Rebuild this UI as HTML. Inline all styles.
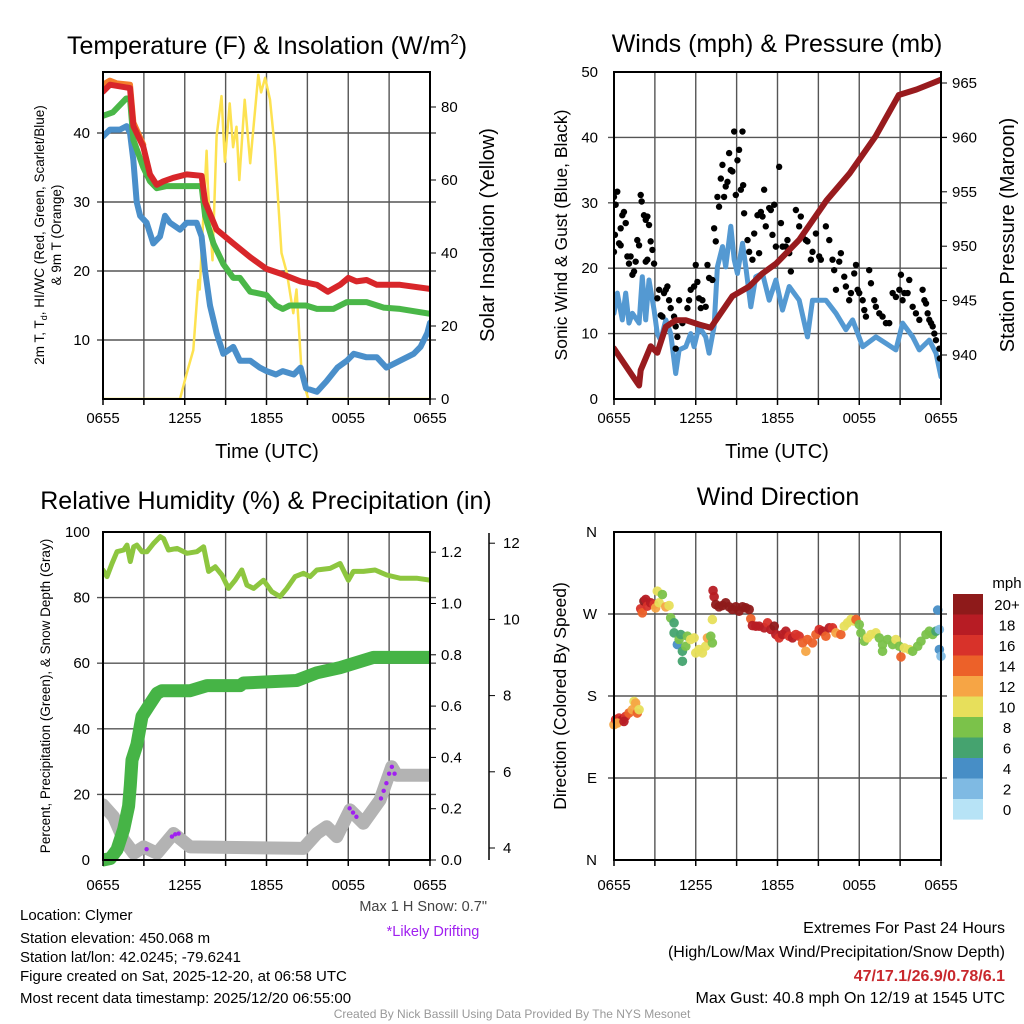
<!DOCTYPE html>
<html><head><meta charset="utf-8"><style>
body{margin:0;background:#fff}
svg{display:block;font-family:"Liberation Sans",Arial,sans-serif}
</style></head><body>
<svg id="c" width="1024" height="1024" viewBox="0 0 1024 1024" xmlns="http://www.w3.org/2000/svg">
<defs>
<clipPath id="c1"><rect x="103" y="72" width="327" height="327"/></clipPath>
<clipPath id="c2"><rect x="614" y="72" width="327" height="327"/></clipPath>
<clipPath id="c3"><rect x="103" y="532" width="327" height="340"/></clipPath>
<clipPath id="c4"><rect x="608" y="532" width="340" height="328"/></clipPath>
</defs>
<g id="g1"></g>
<g id="g2"></g>
<g id="g3"></g>
<g id="g4"></g>
<g id="gt">
<text x="267" y="54" font-size="25" text-anchor="middle">Temperature (F) &amp; Insolation (W/m<tspan font-size="15" dy="-10">2</tspan><tspan dy="10">)</tspan></text>
<text x="777" y="52" font-size="25" text-anchor="middle">Winds (mph) &amp; Pressure (mb)</text>
<text x="266" y="509" font-size="25" text-anchor="middle">Relative Humidity (%) &amp; Precipitation (in)</text>
<text x="778" y="505" font-size="25" text-anchor="middle">Wind Direction</text>
<text x="267" y="458" font-size="20" text-anchor="middle">Time (UTC)</text>
<text x="777" y="458" font-size="20" text-anchor="middle">Time (UTC)</text>
<text transform="translate(44,235) rotate(-90)" font-size="13.5" text-anchor="middle">2m T, T<tspan font-size="9" dy="3">d</tspan><tspan dy="-3">, HI/WC (Red, Green, Scarlet/Blue)</tspan></text>
<text transform="translate(61,235) rotate(-90)" font-size="13.5" text-anchor="middle">&amp; 9m T (Orange)</text>
<text transform="translate(494,235) rotate(-90)" font-size="20" text-anchor="middle">Solar Insolation (Yellow)</text>
<text transform="translate(567,235) rotate(-90)" font-size="17.5" text-anchor="middle">Sonic Wind &amp; Gust (Blue, Black)</text>
<text transform="translate(1014,235) rotate(-90)" font-size="20" text-anchor="middle">Station Pressure (Maroon)</text>
<text transform="translate(50,696) rotate(-90)" font-size="13.5" text-anchor="middle">Percent, Precipitation (Green), &amp; Snow Depth (Gray)</text>
<text transform="translate(566,696) rotate(-90)" font-size="17.5" text-anchor="middle">Direction (Colored By Speed)</text>
<text x="487" y="911" font-size="14.5" text-anchor="end" fill="#444">Max 1 H Snow: 0.7"</text>
<text x="433" y="936" font-size="14.5" text-anchor="middle" fill="#a020f0">*Likely Drifting</text>
<g font-size="15">
<text x="20" y="920">Location: Clymer</text>
<text x="20" y="943">Station elevation: 450.068 m</text>
<text x="20" y="962">Station lat/lon: 42.0245; -79.6241</text>
<text x="20" y="981">Figure created on Sat, 2025-12-20, at 06:58 UTC</text>
<text x="20" y="1003">Most recent data timestamp: 2025/12/20 06:55:00</text>
</g>
<g font-size="16" text-anchor="end">
<text x="1005" y="933">Extremes For Past 24 Hours</text>
<text x="1005" y="957">(High/Low/Max Wind/Precipitation/Snow Depth)</text>
<text x="1005" y="981" fill="#c8282d" font-weight="bold">47/17.1/26.9/0.78/6.1</text>
<text x="1005" y="1003">Max Gust: 40.8 mph On 12/19 at 1545 UTC</text>
</g>
<text x="512" y="1018" font-size="12" fill="#999" text-anchor="middle">Created By Nick Bassill Using Data Provided By The NYS Mesonet</text>
</g>
</svg>
<script>
// ---------- DATA ----------
const xTickLabels=["0655","1255","1855","0055","0655"];
const tTicks=[10,20,30,40];
const sTicks=[0,20,40,60,80];
const wTicks=[0,10,20,30,40,50];
const pTicks=[940,945,950,955,960,965];
const rhTicks=[0,20,40,60,80,100];
const prTicks=[0.0,0.2,0.4,0.6,0.8,1.0,1.2];
const snTicks=[4,6,8,10,12];
const dirLabels=["N","E","S","W","N"];
const dirTicks=[0,90,180,270,360];
const cbLabels=["20+","18","16","14","12","10","8","6","4","2","0"];
const cbColors=["#8e1a1a","#b71c24","#d8322a","#ec6129","#f6a545","#e7df5b","#7bc24a","#45a36f","#478ec6","#7fbae3","#b7e3f6"];

const redH=[0,0.51,1.98,2.23,2.96,3.45,3.94,4.43,5.16,6.14,7.24,7.49,8.34,9.56,10.8,12.0,13.2,14.5,15.7,16.5,17.4,18.0,18.6,19.35,20.1,21.8,24];
const redV=[46,47,46.5,41,38,34,32.5,33,33.5,34,33.8,30,26,24,22,20.3,19.5,18.5,18,17,18,19,18.5,18.7,18,18,17.4];
const orgH=[0,0.51,1.0,1.98,2.23,2.96];
const orgV=[47,47.6,47.2,47,41.5,38.3];
const grnH=[0,0.73,1.7,1.98,2.23,2.96,3.45,3.94,4.67,6.14,7.24,7.49,8.1,8.83,9.56,10.05,10.8,12.0,12.7,13.2,13.7,14.5,14.9,15.7,16.9,17.9,19.35,20.6,21.8,24];
const grnV=[42.5,43,45,45,39,35,33,32,32.3,32.3,32.3,28,24,21,19,19,17,16.5,15,14.5,15,15,15,14.5,14.5,15.5,15.5,14.7,14.5,13.8];
const bluH=[0,0.51,1.24,1.73,1.98,2.23,2.47,2.72,3.2,3.69,4.18,4.55,4.91,5.65,6.14,6.87,7.24,7.49,7.85,8.34,8.83,9.56,10.05,10.8,11.5,12.0,12.7,13.2,14.0,14.5,14.9,15.7,16.4,17.2,17.9,18.4,19.35,20.1,20.8,21.8,22.8,23.3,23.8,24];
const bluV=[39.5,40.5,40.5,41,40,36,30,28,27,24,25,28,27,26,27,27,25,20,15,11,8,9,7,7,6,5.5,5,5.5,5,6,3,2.5,4,6,7,8,7.5,7.5,6,7,8,9,11,12.5];
const solH=[0,5.65,6.14,6.63,7.0,7.1,7.6,7.7,8.04,8.34,8.7,8.95,9.3,9.55,9.8,10.0,10.4,10.8,11.4,11.6,11.9,12.26,12.6,13.1,13.5,13.97,14.2,14.6,15.07,24];
const solV=[0,0,7,13.4,32.6,30,68,58,38,72,83,65,81,69,74.6,60,82,64.6,88.8,84,88,82,69,40,34.5,23.5,30,6,0,0];

const wndH=[0,.24,.61,.86,1.1,1.35,1.84,2.08,2.33,2.57,2.94,3.18,3.43,3.8,4.16,4.53,4.78,5.27,5.63,5.88,6.24,6.73,6.98,7.35,7.59,7.96,8.2,8.57,8.82,9.06,9.43,9.67,10.04,10.41,10.9,11.39,11.88,12.37,12.86,13.59,14.2,14.57,15.55,16.29,17.02,17.51,18.25,19.22,19.96,20.69,21.18,21.92,22.41,23.14,23.63,24];
const wndV=[13.1,16.2,12.1,16.2,11.6,13.1,11.6,18.7,12.1,18.2,13.6,10.0,9.0,12.1,10.0,3.9,7.5,8.0,10.0,8.0,11.1,9.5,7.0,11.1,20.2,23.3,20.2,26.4,21.3,19.2,23.8,20.2,14.1,18.7,19.2,15.1,18.2,13.6,17.2,15.1,9.5,15.1,15.1,13.1,10.6,12.1,8.0,9.5,8.5,7.5,11.6,9.5,7.5,9.0,7.0,3.4];
const prsH=[0,1.84,1.96,2.69,3.18,3.80,4.53,5.27,6.24,7.10,8.69,9.92,10.9,11.9,13.6,15.6,17.3,19.2,20.9,22.2,23.4,24];
const prsV=[940.6,937.2,938.6,940.8,940.2,942.6,943.2,943.2,942.8,942.5,945.4,946.3,947.5,948.4,950.6,954.2,956.7,960.1,963.9,964.4,965.0,965.3];
const gstH=[0,0,.24,.12,.07,.37,.49,.61,.73,.86,.49,.98,1.10,1.22,1.35,1.47,1.59,1.71,1.84,1.96,2.03,2.20,2.33,2.45,2.57,2.69,2.82,2.33,2.45,2.94,3.18,3.31,3.43,3.55,3.67,3.80,3.92,4.04,4.16,4.41,4.53,4.65,4.53,4.78,5.02,5.39,5.51,5.63,5.88,6.0,6.12,6.24,6.37,6.49,6.73,6.86,6.98,7.22,7.35,7.47,7.59,7.71,7.84,7.96,8.08,8.20,8.33,8.45,8.57,8.69,8.82,8.94,9.06,9.18,9.31,9.43,9.48,9.55,9.80,9.92,10.16,10.29,10.53,10.65,10.78,10.90,11.02,11.14,11.39,11.51,11.63,11.76,11.88,12.12,12.25,12.37,12.61,12.73,12.86,12.98,13.35,13.59,13.71,13.84,14.08,14.2,14.45,14.57,14.82,15.06,15.18,15.55,15.8,16.04,16.16,16.29,16.53,16.65,16.9,17.02,17.26,17.39,17.63,17.76,17.88,18.0,18.25,18.37,18.49,18.73,18.86,19.1,19.22,19.47,19.71,19.96,20.2,20.45,20.69,20.94,21.06,21.18,21.31,21.55,21.67,21.92,22.16,22.41,22.65,22.78,22.9,23.02,23.14,23.27,23.39,23.51,23.63,23.88,23.92];
const gstV=[22.5,30.9,31.7,29.7,25.1,23.8,23.5,28.1,28.6,26.9,26.1,21.8,20.7,21.8,19.0,19.5,21.0,24.3,23.5,31.2,30.2,28.1,27.4,27.9,26.6,24.1,22.8,21.0,21.3,20.7,15.4,16.7,12.8,12.6,16.2,16.7,17.2,15.1,13.9,12.6,11.1,9.5,7.7,15.1,11.6,13.9,15.1,16.7,17.2,20.5,17.9,15.4,13.9,15.1,14.1,20.5,18.5,18.2,26.1,24.1,30.9,29.4,33.7,35.8,30.9,32.5,33.2,37.6,35.0,34.8,40.9,31.2,36.5,38.1,32.0,40.9,32.7,28.4,24.3,22.5,21.3,25.3,28.1,22.3,28.6,27.9,32.0,26.4,29.2,28.9,25.1,29.7,23.3,35.5,26.9,23.3,23.3,24.3,22.3,19.5,28.9,26.4,27.9,24.8,24.3,24.1,21.3,22.5,25.3,21.8,21.3,26.4,24.3,21.3,19.7,16.7,21.0,22.3,18.7,17.2,15.1,16.2,19.2,20.5,16.7,16.2,15.1,13.6,12.6,19.7,17.7,15.1,14.1,13.1,12.6,11.6,11.6,16.2,15.6,16.7,19.0,15.1,16.2,16.2,18.2,14.1,13.1,12.1,16.7,15.1,14.6,13.1,12.1,11.6,11.1,10.0,9.0,7.7,6.2];

const rhH=[0,.29,.66,1.03,1.52,1.76,2.0,2.25,2.49,2.86,3.23,3.71,4.2,4.45,4.81,5.43,6.16,6.89,7.38,7.75,8.24,8.73,9.21,9.70,10.19,10.56,11.05,11.78,12.39,13.0,13.49,14.1,14.71,15.2,15.69,16.67,17.4,18.01,18.38,19.11,19.97,20.82,21.8,23.02,24];
const rhV=[88.4,86.4,90.4,94,94.5,96,91,95.5,96,94,94,96.5,98.6,98,94.5,95,93.5,94,95.5,88,89.4,86.9,82.8,85.3,88.4,83.8,82.8,85.3,81.8,80.3,82.8,86.4,87.4,86.4,88.4,88.9,90.4,85.3,88,88,88.4,86.9,85.9,85.9,85.3];
const prH=[0,.54,1.03,1.52,1.88,2.0,2.13,2.49,2.86,3.35,3.96,4.33,6.4,7.63,10.07,10.31,14.22,15.69,17.4,19.85,24];
const prV=[0,.006,.04,.12,.21,.29,.39,.45,.56,.60,.65,.66,.66,.68,.68,.69,.70,.73,.75,.79,.79];
const snH=[0,.78,1.52,2.25,2.98,3.96,5.18,6.4,14.71,15.69,16.42,17.16,18.13,19.11,20.33,21.19,21.56,24];
const snV=[5.13,4.82,4.21,3.86,4.03,3.86,4.38,4.03,3.99,4.38,4.56,4.30,5.0,4.65,5.26,6.13,5.91,5.91];
const drH=[3.2,5.06,5.3,5.55,18.1,18.35,18.6,20.4,20.6,20.8,21.0,21.2,21.4];
const drV=[3.97,4.3,4.36,4.38,5.04,4.93,4.82,5.3,5.5,5.7,5.95,6.13,5.95];

const wdH=[0,0.12,0.37,0.61,0.86,1.1,1.35,1.47,1.59,1.71,1.84,0.24,0.73,1.96,2.08,2.2,2.33,2.45,2.69,2.94,3.06,3.18,3.31,3.55,3.8,4.04,4.16,4.41,4.41,4.65,4.78,4.9,5.02,5.02,5.27,5.39,5.63,5.88,6.0,6.24,6.49,6.73,6.86,7.1,7.22,7.22,7.27,7.35,7.47,7.71,7.96,8.2,8.45,8.69,8.94,9.18,9.43,9.67,9.92,10.04,10.16,10.41,10.65,11.02,11.27,11.51,11.76,11.88,12.12,12.37,12.61,12.86,13.1,13.35,13.59,13.84,14.08,14.2,14.57,14.82,15.06,15.31,15.55,15.8,16.04,16.29,16.65,16.9,17.14,17.39,17.63,17.76,18.0,18.12,18.37,18.61,18.86,19.22,19.47,19.71,19.71,20.08,20.45,20.69,20.94,21.06,21.31,21.67,21.92,22.29,22.53,22.9,23.14,23.39,23.63,23.76,23.88,23.88,24.0];
const wdV=[148.5,154,155.8,154,157.6,161.3,165,174.1,172.3,161.3,165,150.3,152.1,275.7,271.3,284.1,286,278.6,282.3,280.4,276.8,295.1,282.3,291.4,277.9,279.3,265.8,260.3,249.3,236.5,242,247.5,229.1,218.1,234.6,245.6,242,243.8,227.3,231,227.3,234.6,243.8,245.6,238.3,264,295.8,288.9,280.4,277.9,279.3,282.3,277.9,275,277.9,273.1,277.9,276.8,275,264.7,257.3,256.6,256.6,254.8,260.3,253,256.6,247.5,243.8,247.5,251.1,245.6,243.8,247.5,245.6,238.3,229.1,242,238.3,247.5,253,251.1,245.6,254.8,254.8,249.3,247.5,256.6,260.3,264,262.2,264,258.4,249.3,240.1,243.8,247.5,249.3,243.8,236.5,229.1,242,236.5,242,234.6,222.9,232.8,231,229.1,234.6,240.1,247.5,251.1,247.5,251.1,274.3,253,231,223.6];
const wdS=[12,16,16,18,16,14,12,10,12,14,10,12,18,16,14,20,18,16,18,16,12,10,10,8,12,10,8,6,6,4,8,6,6,6,8,8,10,10,10,10,10,10,12,8,8,10,18,18,20,20,20,20,20,20,20,20,20,20,20,14,18,18,18,18,16,18,20,18,16,18,18,16,18,16,16,14,12,14,14,14,16,18,14,18,16,12,14,10,10,10,10,14,8,8,8,10,10,10,8,8,8,8,8,10,8,14,10,10,8,8,8,8,8,8,6,4,2,4,2];

// ---------- HELPERS ----------
const NS="http://www.w3.org/2000/svg";
function mk(parent,tag,attrs){const e=document.createElementNS(NS,tag);for(const k in attrs)e.setAttribute(k,attrs[k]);parent.appendChild(e);return e;}
function txt(parent,x,y,s,size,anchor){const e=mk(parent,"text",{x:x,y:y,"font-size":size,"text-anchor":anchor||"middle"});e.textContent=s;return e;}
function pathD(H,V,fx,fy){return H.map((h,i)=>(i?"L":"M")+fx(h).toFixed(1)+","+fy(V[i]).toFixed(1)).join("");}

const g1=document.getElementById("g1"),g2=document.getElementById("g2"),g3=document.getElementById("g3"),g4=document.getElementById("g4");
const xA=h=>103+h/24*327, xB=h=>614+h/24*327;

function frame(g,x0,y0,w,h,ticksY){
  for(let i=1;i<8;i++){const l=mk(g,"line",{x1:x0+i*w/8,x2:x0+i*w/8,y1:y0,y2:y0+h,stroke:"#555","stroke-width":1.4});
  
  }
  ticksY.forEach(y=>{const l=mk(g,"line",{x1:x0-6,x2:x0+w+6,y1:y,y2:y,stroke:"#555","stroke-width":1.4});
  
  });
}
function border(g,x0,y0,w,h){const r=mk(g,"rect",{x:x0,y:y0,width:w,height:h,fill:"none",stroke:"#000","stroke-width":2});
  
  
  for(let i=0;i<=8;i++){const l=mk(g,"line",{x1:x0+i*w/8,x2:x0+i*w/8,y1:y0+h,y2:y0+h+6,stroke:"#000","stroke-width":1.5});
  
  }
}
function xlabels(g,fx,y){xTickLabels.forEach((s,i)=>{const t=txt(g,fx(i*6),y,s,15);
  
  });}

// ---------- PANEL 1 ----------
const yT=v=>409-v*6.9, yS=v=>399-v*3.65;
frame(g1,103,72,327,327,tTicks.map(yT));
const c1=mk(g1,"g",{"clip-path":"url(#c1)",fill:"none","stroke-linejoin":"round","stroke-linecap":"round"});
[[solH,solV,yS,"#fde251",2.5,"insolation-line"],[orgH,orgV,yT,"#f47d2b",6,"9m-temp-line"],[bluH,bluV,yT,"#4a8fca",6,"windchill-line"],[grnH,grnV,yT,"#4ab748",6,"dewpoint-line"],[redH,redV,yT,"#d8262a",6,"temperature-line"]].forEach(s=>{
  const p=mk(c1,"path",{d:pathD(s[0],s[1],xA,s[2]),stroke:s[3],"stroke-width":s[4]});
  
  
});
border(g1,103,72,327,327);
tTicks.forEach(v=>{const t=txt(g1,90,yT(v)+5,String(v),15,"end");
  
  });
sTicks.forEach(v=>{mk(g1,"line",{x1:430,x2:436,y1:yS(v),y2:yS(v),stroke:"#000"});const t=txt(g1,441,yS(v)+5,String(v),15,"start");
  
  });
xlabels(g1,xA,423);

// ---------- PANEL 2 ----------
const yW=v=>399-v*6.54, yP=p=>355-(p-940)*10.88;
frame(g2,614,72,327,327,[10,20,30,40].map(yW));
const c2=mk(g2,"g",{"clip-path":"url(#c2)","stroke-linejoin":"round","stroke-linecap":"round"});
const wl=mk(c2,"path",{d:pathD(wndH,wndV,xB,yW),stroke:"#5499d2","stroke-width":5,fill:"none"});


gstH.forEach((h,i)=>{const d=mk(c2,"circle",{cx:xB(h),cy:yW(gstV[i]),r:3.2,fill:"#000"});
  
  });
const pl=mk(c2,"path",{d:pathD(prsH,prsV,xB,yP),stroke:"#981b1e","stroke-width":6,fill:"none"});


border(g2,614,72,327,327);
wTicks.forEach(v=>{const t=txt(g2,598,yW(v)+5,String(v),15,"end");
  
  });
pTicks.forEach(v=>{mk(g2,"line",{x1:941,x2:947,y1:yP(v),y2:yP(v),stroke:"#000"});const t=txt(g2,952,yP(v)+5,String(v),15,"start");
  
  });
xlabels(g2,xB,423);

// ---------- PANEL 3 ----------
const yRH=v=>860-v*3.28, yPr=v=>860-v*256.5, ySn=v=>848-(v-4)*38.1;
frame(g3,103,532,327,328,[20,40,60,80].map(yRH));
const c3=mk(g3,"g",{"clip-path":"url(#c3)",fill:"none","stroke-linejoin":"round","stroke-linecap":"round"});
const sl=mk(c3,"path",{d:pathD(snH,snV,xA,ySn),stroke:"#b3b3b3","stroke-width":13});


const rl=mk(c3,"path",{d:pathD(rhH,rhV,xA,yRH),stroke:"#8dc63f","stroke-width":5});


const pr=mk(c3,"path",{d:pathD(prH,prV,xA,yPr),stroke:"#46b446","stroke-width":13});


drH.forEach((h,i)=>{const d=mk(c3,"circle",{cx:xA(h),cy:ySn(drV[i]),r:2.2,fill:"#a020f0"});
  
  });
border(g3,103,532,327,328);
rhTicks.forEach(v=>{const t=txt(g3,90,yRH(v)+5,String(v),15,"end");
  
  });
prTicks.forEach(v=>{mk(g3,"line",{x1:430,x2:436,y1:yPr(v),y2:yPr(v),stroke:"#000"});const t=txt(g3,441,yPr(v)+5,v.toFixed(1),15,"start");
  
  });
mk(g3,"line",{x1:489,x2:489,y1:533,y2:860,stroke:"#000","stroke-width":1.5});
snTicks.forEach(v=>{mk(g3,"line",{x1:489,x2:495,y1:ySn(v),y2:ySn(v),stroke:"#000"});const t=txt(g3,503,ySn(v)+5,String(v),15,"start");
  
  });
xlabels(g3,xA,890);

// ---------- PANEL 4 ----------
const yD=d=>860-d*328/360;
frame(g4,614,532,327,328,[90,180,270].map(yD));
const c4=mk(g4,"g",{"clip-path":"url(#c4)"});
function colorFor(s){let i=10-Math.min(10,Math.floor(s/2));return cbColors[i];}
wdH.forEach((h,i)=>{const d=mk(c4,"circle",{cx:xB(h),cy:yD(wdV[i]),r:4.8,fill:colorFor(wdS[i]),"fill-opacity":0.95});
  
  });
border(g4,614,532,327,328);
dirTicks.forEach((d,i)=>{const t=txt(g4,597,yD(d)+5,dirLabels[i],15,"end");
  
  });
xlabels(g4,xB,890);
const cb=mk(g4,"g",{});


cbColors.forEach((c,i)=>{const r=mk(cb,"rect",{x:953,y:594+i*20.5,width:30,height:20.6,fill:c});
  
  
  const t=txt(cb,1007,594+i*20.5+16,cbLabels[i],15);
  
  });
const mt=txt(cb,1007,588,"mph",15);


</script>
</body></html>
